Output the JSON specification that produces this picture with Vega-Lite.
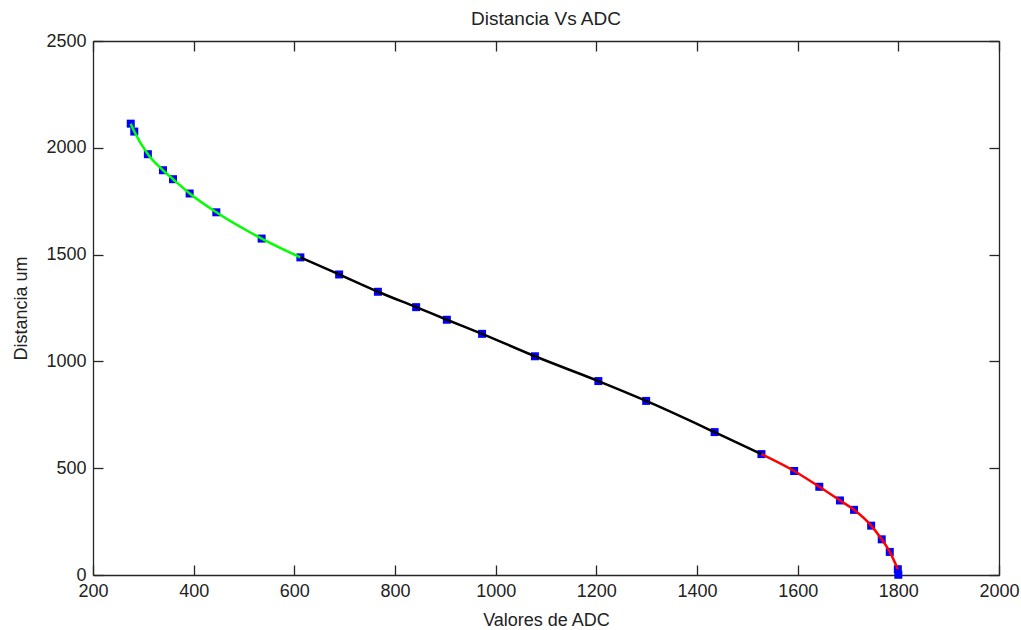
{
  "$schema": "https://vega.github.io/schema/vega-lite/v6.json",
  "autosize": "none",
  "width": 906,
  "height": 534,
  "padding": {"left": 93, "top": 41, "right": 22, "bottom": 55},
  "background": "white",
  "title": {"text": "Distancia Vs ADC", "fontSize": 19, "font": "Liberation Sans", "fontWeight": "normal", "color": "#222", "offset": 3},
  "config": {
    "view": {"stroke": null},
    "axis": {"grid": false, "domainColor": "#262626", "tickColor": "#262626", "labelColor": "#222", "titleColor": "#222", "labelFont": "Liberation Sans", "titleFont": "Liberation Sans", "labelFontSize": 18, "titleFontSize": 18, "titleFontWeight": "normal", "tickSize": -10, "domainWidth": 1.3, "tickWidth": 1.3, "format": "d"}
  },
  "datasets": {
    "pts": [
      {"adc": 275, "dist": 2113}, {"adc": 282, "dist": 2076}, {"adc": 309, "dist": 1970}, {"adc": 339, "dist": 1895},
      {"adc": 359, "dist": 1853}, {"adc": 392, "dist": 1786}, {"adc": 445, "dist": 1698}, {"adc": 535, "dist": 1575},
      {"adc": 612, "dist": 1487}, {"adc": 689, "dist": 1407}, {"adc": 766, "dist": 1326}, {"adc": 842, "dist": 1254},
      {"adc": 903, "dist": 1195}, {"adc": 973, "dist": 1129}, {"adc": 1078, "dist": 1024}, {"adc": 1204, "dist": 908},
      {"adc": 1299, "dist": 815}, {"adc": 1435, "dist": 669}, {"adc": 1528, "dist": 566}, {"adc": 1593, "dist": 487},
      {"adc": 1643, "dist": 413}, {"adc": 1684, "dist": 349}, {"adc": 1712, "dist": 305}, {"adc": 1746, "dist": 231},
      {"adc": 1767, "dist": 167}, {"adc": 1783, "dist": 108}, {"adc": 1799, "dist": 27}, {"adc": 1800, "dist": 1}
    ],
    "fit": [
      {"seg": "a", "adc": 275, "dist": 2113}, {"seg": "a", "adc": 282, "dist": 2076}, {"seg": "a", "adc": 309, "dist": 1970},
      {"seg": "a", "adc": 339, "dist": 1895}, {"seg": "a", "adc": 359, "dist": 1853}, {"seg": "a", "adc": 392, "dist": 1786},
      {"seg": "a", "adc": 445, "dist": 1698}, {"seg": "a", "adc": 535, "dist": 1575}, {"seg": "a", "adc": 612, "dist": 1487},
      {"seg": "b", "adc": 612, "dist": 1487}, {"seg": "b", "adc": 689, "dist": 1407}, {"seg": "b", "adc": 766, "dist": 1326},
      {"seg": "b", "adc": 842, "dist": 1254}, {"seg": "b", "adc": 903, "dist": 1195}, {"seg": "b", "adc": 973, "dist": 1129},
      {"seg": "b", "adc": 1078, "dist": 1024}, {"seg": "b", "adc": 1204, "dist": 908}, {"seg": "b", "adc": 1299, "dist": 815},
      {"seg": "b", "adc": 1435, "dist": 669}, {"seg": "b", "adc": 1528, "dist": 566},
      {"seg": "c", "adc": 1528, "dist": 566}, {"seg": "c", "adc": 1593, "dist": 487}, {"seg": "c", "adc": 1643, "dist": 413},
      {"seg": "c", "adc": 1684, "dist": 349}, {"seg": "c", "adc": 1712, "dist": 305}, {"seg": "c", "adc": 1746, "dist": 231},
      {"seg": "c", "adc": 1767, "dist": 167}, {"seg": "c", "adc": 1783, "dist": 108}, {"seg": "c", "adc": 1799, "dist": 27}
    ]
  },
  "layer": [
    {
      "data": {"name": "pts"},
      "mark": {"type": "point", "shape": "square", "filled": true, "color": "#0000ff", "size": 64, "opacity": 1},
      "encoding": {
        "x": {"field": "adc", "type": "quantitative", "scale": {"domain": [200, 2000], "nice": false}, "axis": {"orient": "bottom", "title": "Valores de ADC", "values": [200, 400, 600, 800, 1000, 1200, 1400, 1600, 1800, 2000], "labelPadding": 17, "titlePadding": 11, "labelFlush": false}},
        "y": {"field": "dist", "type": "quantitative", "scale": {"domain": [0, 2500], "nice": false}, "axis": {"orient": "left", "title": "Distancia um", "values": [0, 500, 1000, 1500, 2000, 2500], "labelPadding": 17, "titlePadding": 15, "labelFlush": false}}
      }
    },
    {
      "data": {"name": "fit"},
      "mark": {"type": "line", "strokeWidth": 2.5, "interpolate": "monotone"},
      "encoding": {
        "x": {"field": "adc", "type": "quantitative", "axis": {"orient": "top", "title": null, "labels": false, "values": [200, 400, 600, 800, 1000, 1200, 1400, 1600, 1800, 2000]}},
        "y": {"field": "dist", "type": "quantitative", "axis": {"orient": "right", "title": null, "labels": false, "values": [0, 500, 1000, 1500, 2000, 2500]}},
        "color": {"field": "seg", "type": "nominal", "scale": {"domain": ["a", "b", "c"], "range": ["#00ff00", "#000000", "#ff0000"]}, "legend": null},
        "detail": {"field": "seg"}
      }
    }
  ],
  "resolve": {"axis": {"x": "independent", "y": "independent"}}
}
